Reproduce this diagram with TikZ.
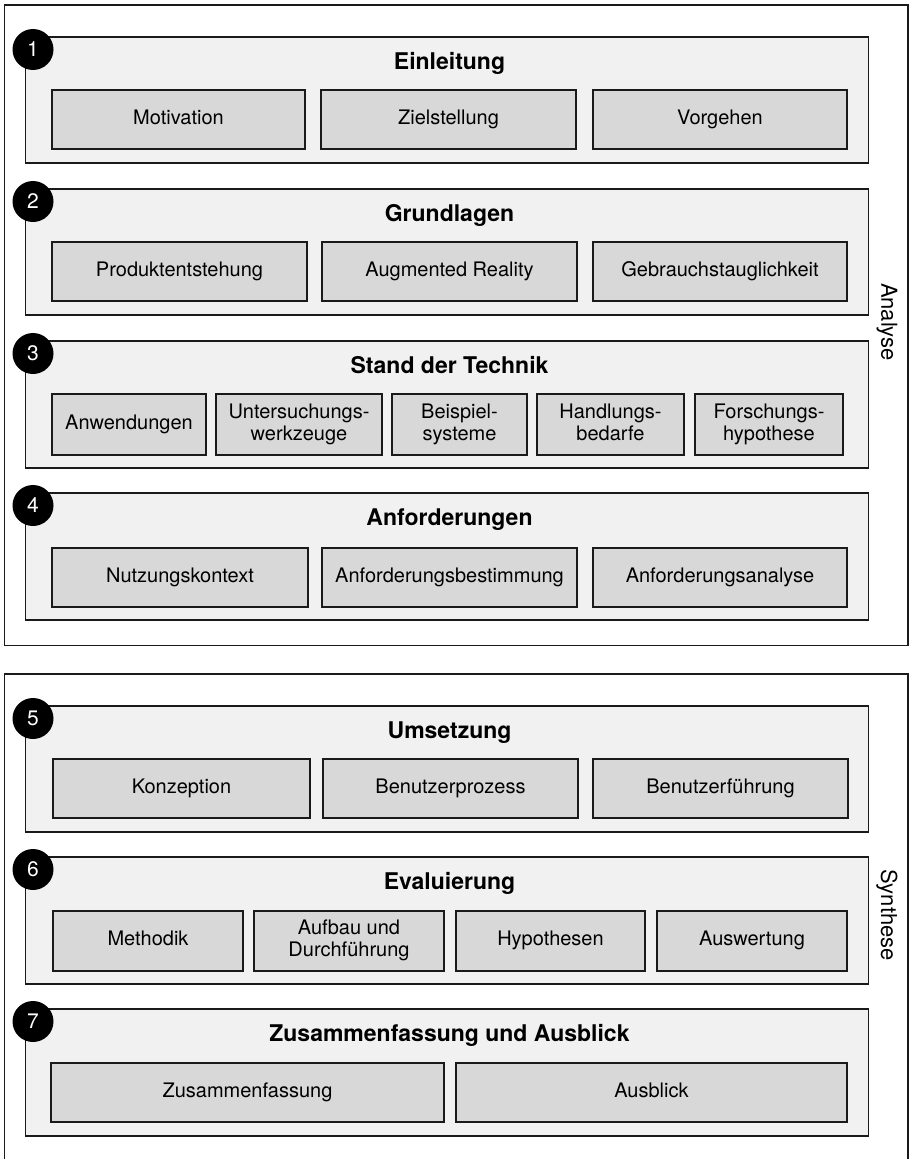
\documentclass[tikz,border=0pt]{standalone}
\usepackage{fontspec}
\setmainfont{TeX Gyre Heros}
\definecolor{secfill}{HTML}{F1F1F1}
\definecolor{subfill}{HTML}{D8D8D8}
\definecolor{outline}{HTML}{1A1A1A}
\newcommand\mystrut{\rule[-5pt]{0pt}{17pt}}
\tikzset{
  outerbox/.style={draw=outline, line width=1.3pt},
  secbox/.style={draw=outline, fill=secfill, line width=1.3pt, inner sep=0pt, outer sep=0pt, anchor=north west},
  subbox/.style={draw=outline, fill=subfill, line width=1.3pt, inner sep=0pt, outer sep=0pt, anchor=north west, align=center, font=\fontsize{20}{22}\selectfont, execute at begin node=\mystrut, execute at end node=\mystrut},
  sectitle/.style={font=\fontsize{23}{26}\selectfont\bfseries, inner sep=0pt, text height=16.5pt, text depth=4.5pt},
  numcirc/.style={circle, fill=black, text=white, minimum size=41pt, inner sep=0pt, font=\fontsize{21}{23}\selectfont},
  sidelabel/.style={rotate=-90, font=\fontsize{22}{24}\selectfont, inner sep=0pt}
}
\newcommand\mysec[4]{% name, top, bottom, title
  \node[secbox, minimum width=843pt, minimum height={#3-#2}] (#1) at (25.5,#2) {};
  \node[sectitle] (#1t) at (449.5,#2+26) {#4};
}
\newcommand\mysub[6]{% name, x1, x2, y1, y2, text
  \node[subbox, minimum width={#3-#2}, minimum height={#5-#4}] (#1) at (#2,#4) {#6};
}
\begin{document}
\begin{tikzpicture}[x=1pt,y=-1pt]
\useasboundingbox (0,0) rectangle (910,1159);
% outer frames
\draw[outerbox] (4.5,5) rectangle (908,645.5);
\coordinate (o2a) at (4.5,1162);
\coordinate (o2b) at (4.5,674);
\coordinate (o2c) at (908,674);
\coordinate (o2d) at (908,1162);
\draw[outerbox] (o2a) -- (o2b) -- (o2c) -- (o2d);
\node[sidelabel] (analyse) at (887,322) {Analyse};
\node[sidelabel] (synthese) at (887,915) {Synthese};

% 1 Einleitung
\mysec{s1}{37}{163}{Einleitung}
\mysub{a1}{52}{305}{90}{149}{Motivation}
\mysub{a2}{321}{576}{90}{149}{Zielstellung}
\mysub{a3}{593}{847}{90}{149}{Vorgehen}
\node[numcirc] (n1) at (33,49.5) {1};

% 2 Grundlagen
\mysec{s2}{189}{315}{Grundlagen}
\mysub{b1}{52}{307}{242}{301}{Produktentstehung}
\mysub{b2}{322}{577}{242}{301}{Augmented Reality}
\mysub{b3}{593}{847}{242}{301}{Gebrauchstauglichkeit}
\node[numcirc] (n2) at (33,201.5) {2};

% 3 Stand der Technik
\mysec{s3}{341}{468}{Stand der Technik}
\mysub{c1}{52}{206}{394}{455}{Anwendungen}
\mysub{c2}{216}{382}{394}{455}{Untersuchungs-\\werkzeuge}
\mysub{c3}{392}{527}{394}{455}{Beispiel-\\systeme}
\mysub{c4}{537}{684}{394}{455}{Handlungs-\\bedarfe}
\mysub{c5}{695}{843}{394}{455}{Forschungs-\\hypothese}
\node[numcirc] (n3) at (33,353.5) {3};

% 4 Anforderungen
\mysec{s4}{493}{620}{Anforderungen}
\mysub{d1}{52}{308}{548}{607}{Nutzungskontext}
\mysub{d2}{322}{577}{548}{607}{Anforderungsbestimmung}
\mysub{d3}{593}{847}{548}{607}{Anforderungsanalyse}
\node[numcirc] (n4) at (33,505.5) {4};

% 5 Umsetzung
\mysec{s5}{706}{832}{Umsetzung}
\mysub{e1}{53}{310}{759}{818}{Konzeption}
\mysub{e2}{323}{578}{759}{818}{Benutzerprozess}
\mysub{e3}{593}{848}{759}{818}{Benutzerführung}
\node[numcirc] (n5) at (33,718.5) {5};

% 6 Evaluierung
\mysec{s6}{857}{984}{Evaluierung}
\mysub{f1}{53}{243}{911}{971}{Methodik}
\mysub{f2}{254}{444}{911}{971}{Aufbau und\\Durchführung}
\mysub{f3}{456}{645}{911}{971}{Hypothesen}
\mysub{f4}{657}{847}{911}{971}{Auswertung}
\node[numcirc] (n6) at (33,869.5) {6};

% 7 Zusammenfassung und Ausblick
\mysec{s7}{1009}{1136}{Zusammenfassung und Ausblick}
\mysub{g1}{51}{444}{1063}{1122}{Zusammenfassung}
\mysub{g2}{456}{847}{1063}{1122}{Ausblick}
\node[numcirc] (n7) at (33,1021.5) {7};
\end{tikzpicture}
\end{document}
